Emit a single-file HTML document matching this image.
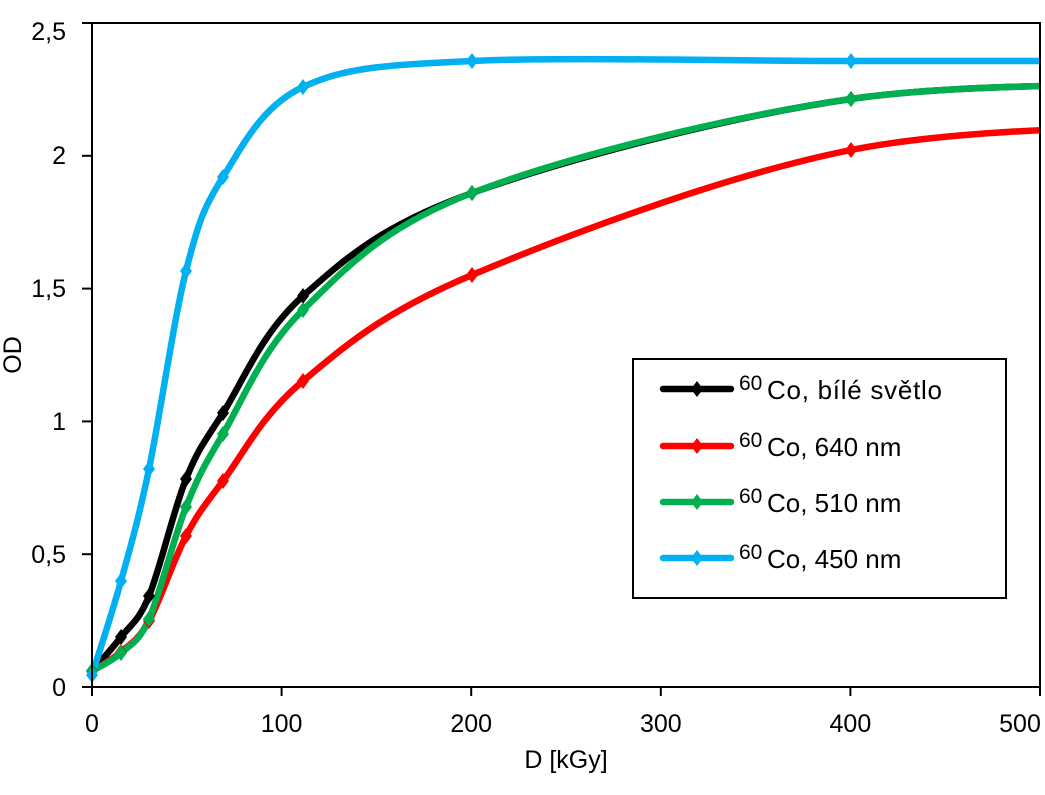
<!DOCTYPE html>
<html>
<head>
<meta charset="utf-8">
<style>
html,body{margin:0;padding:0;background:#fff;}
svg{display:block;}
text{font-family:"Liberation Sans",Arial,sans-serif;fill:#000;}
</style>
</head>
<body>
<svg width="1045" height="795" viewBox="0 0 1045 795" xmlns="http://www.w3.org/2000/svg">
<defs>
<clipPath id="pc"><rect x="92" y="0" width="948" height="700"/></clipPath>
</defs>
<rect width="1045" height="795" fill="#fff"/>

<!-- ticks -->
<g stroke="#000" stroke-width="2">
<line x1="82" y1="687" x2="92" y2="687"/>
<line x1="82" y1="554.2" x2="92" y2="554.2"/>
<line x1="82" y1="421.4" x2="92" y2="421.4"/>
<line x1="82" y1="288.6" x2="92" y2="288.6"/>
<line x1="82" y1="155.8" x2="92" y2="155.8"/>
<line x1="82" y1="23" x2="92" y2="23"/>
<line x1="92" y1="687" x2="92" y2="696"/>
<line x1="281.6" y1="687" x2="281.6" y2="696"/>
<line x1="471.2" y1="687" x2="471.2" y2="696"/>
<line x1="660.8" y1="687" x2="660.8" y2="696"/>
<line x1="850.4" y1="687" x2="850.4" y2="696"/>
<line x1="1040" y1="687" x2="1040" y2="696"/>
</g>

<!-- y labels -->
<g font-size="25" text-anchor="end">
<text x="66" y="696">0</text>
<text x="66" y="563">0,5</text>
<text x="66" y="430">1</text>
<text x="66" y="297">1,5</text>
<text x="66" y="164">2</text>
<text x="66" y="40">2,5</text>
</g>
<!-- x labels -->
<g font-size="25" text-anchor="middle">
<text x="92" y="732">0</text>
<text x="281.6" y="732">100</text>
<text x="471.2" y="732">200</text>
<text x="660.8" y="732">300</text>
<text x="850.4" y="732">400</text>
<text x="1020" y="732">500</text>
</g>
<text x="566" y="768" font-size="25" text-anchor="middle">D [kGy]</text>
<text transform="translate(21,355) rotate(-90)" font-size="25" text-anchor="middle">OD</text>

<!-- series -->
<g clip-path="url(#pc)" fill="none" stroke-width="6.5" stroke-linejoin="round" stroke-linecap="round">
<path stroke="#000000" d="M92,671 C96.8,665.3 111.5,649.5 121,637 C130.5,624.5 138.2,622.3 149,596 C159.8,569.7 173.7,509.5 186,479 C198.3,448.5 203.5,443.5 223,413 C242.5,382.5 261.5,332.7 303,296 C344.5,259.3 380.7,225.8 472,193 C563.3,160.2 724.7,117.2 851,99 C977.3,80.8 1166.8,86.5 1230,84"/>
<path stroke="#FF0000" d="M92,671 C96.8,667.8 111.5,660.3 121,652 C130.5,643.7 138.2,640.3 149,621 C159.8,601.7 173.7,559.3 186,536 C198.3,512.7 203.5,506.8 223,481 C242.5,455.2 261.5,415.3 303,381 C344.5,346.7 380.7,313.5 472,275 C563.3,236.5 724.7,175.2 851,150 C977.3,124.8 1166.8,128.3 1230,124"/>
<path stroke="#00B050" d="M92,671 C96.8,668 111.5,661.7 121,653 C130.5,644.3 138.2,643.3 149,619 C159.8,594.7 173.7,537.8 186,507 C198.3,476.2 203.5,466.8 223,434 C242.5,401.2 261.5,350.2 303,310 C344.5,269.8 380.7,228.2 472,193 C563.3,157.8 724.7,117.2 851,99 C977.3,80.8 1166.8,86.5 1230,84"/>
<path stroke="#00B0F0" d="M92,675 C96.8,659.3 111.5,615.3 121,581 C130.5,546.7 138.2,520.7 149,469 C159.8,417.3 173.7,319.7 186,271 C198.3,222.3 203.5,207.7 223,177 C242.5,146.3 261.5,106.3 303,87 C344.5,67.7 380.7,65.3 472,61 C563.3,56.7 724.7,61 851,61 C977.3,61 1166.8,61 1230,61"/>
</g>

<!-- markers -->
<g fill="#000000">
<path d="M92,663 l6,8 -6,8 -6,-8z M121,629 l6,8 -6,8 -6,-8z M149,588 l6,8 -6,8 -6,-8z M186,471 l6,8 -6,8 -6,-8z M223,405 l6,8 -6,8 -6,-8z M303,288 l6,8 -6,8 -6,-8z M472,185 l6,8 -6,8 -6,-8z M851,91 l6,8 -6,8 -6,-8z"/>
</g>
<g fill="#FF0000">
<path d="M92,663 l6,8 -6,8 -6,-8z M121,644 l6,8 -6,8 -6,-8z M149,613 l6,8 -6,8 -6,-8z M186,528 l6,8 -6,8 -6,-8z M223,473 l6,8 -6,8 -6,-8z M303,373 l6,8 -6,8 -6,-8z M472,267 l6,8 -6,8 -6,-8z M851,142 l6,8 -6,8 -6,-8z"/>
</g>
<g fill="#00B050">
<path d="M92,663 l6,8 -6,8 -6,-8z M121,645 l6,8 -6,8 -6,-8z M149,611 l6,8 -6,8 -6,-8z M186,499 l6,8 -6,8 -6,-8z M223,426 l6,8 -6,8 -6,-8z M303,302 l6,8 -6,8 -6,-8z M472,185 l6,8 -6,8 -6,-8z M851,91 l6,8 -6,8 -6,-8z"/>
</g>
<g fill="#00B0F0">
<path d="M92,667 l6,8 -6,8 -6,-8z M121,573 l6,8 -6,8 -6,-8z M149,461 l6,8 -6,8 -6,-8z M186,263 l6,8 -6,8 -6,-8z M223,169 l6,8 -6,8 -6,-8z M303,79 l6,8 -6,8 -6,-8z M472,53 l6,8 -6,8 -6,-8z M851,53 l6,8 -6,8 -6,-8z"/>
</g>

<!-- plot border -->
<rect x="92" y="23" width="948" height="664" fill="none" stroke="#000" stroke-width="2"/>

<!-- legend -->
<rect x="633" y="359" width="373" height="239" fill="#fff" stroke="#000" stroke-width="2"/>
<g stroke-width="6.5" stroke-linecap="round">
<line x1="663" y1="389" x2="731" y2="389" stroke="#000000"/>
<line x1="663" y1="446" x2="731" y2="446" stroke="#FF0000"/>
<line x1="663" y1="502" x2="731" y2="502" stroke="#00B050"/>
<line x1="663" y1="558" x2="731" y2="558" stroke="#00B0F0"/>
</g>
<path fill="#000000" d="M697,381 l6,8 -6,8 -6,-8z"/>
<path fill="#FF0000" d="M697,438 l6,8 -6,8 -6,-8z"/>
<path fill="#00B050" d="M697,494 l6,8 -6,8 -6,-8z"/>
<path fill="#00B0F0" d="M697,550 l6,8 -6,8 -6,-8z"/>
<g font-size="21">
<text x="739" y="390">60</text>
<text x="739" y="447">60</text>
<text x="739" y="503">60</text>
<text x="739" y="559">60</text>
</g>
<g font-size="26">
<text x="767" y="399" textLength="175" lengthAdjust="spacing">Co, bílé světlo</text>
<text x="767" y="456">Co, 640 nm</text>
<text x="767" y="512">Co, 510 nm</text>
<text x="767" y="568">Co, 450 nm</text>
</g>
</svg>
</body>
</html>
